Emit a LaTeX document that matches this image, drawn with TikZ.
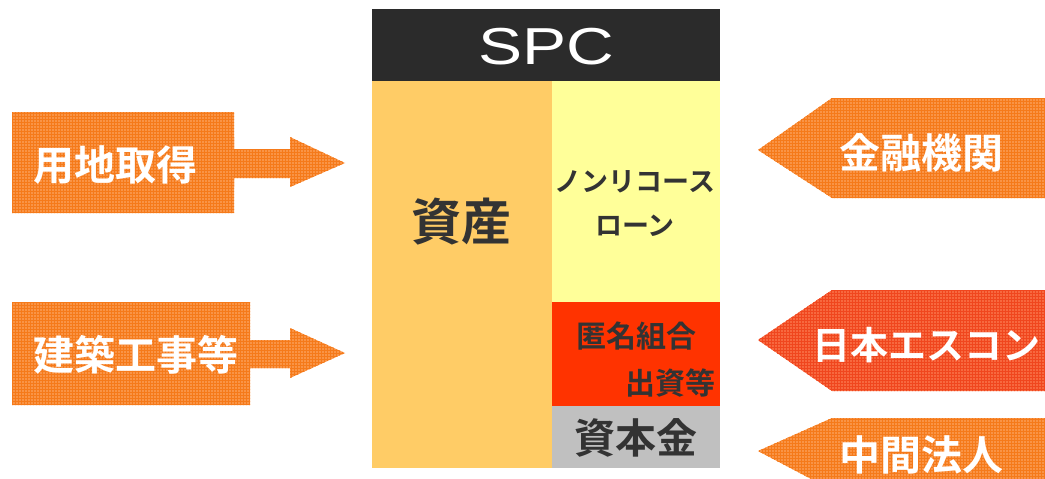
\documentclass[tikz,border=0pt]{standalone}
\usepackage{fontspec}
\usepackage{graphicx}
\setmainfont{Liberation Sans}
\newfontfamily\jp{Noto Sans CJK JP}[BoldFont={* Bold}]
\usetikzlibrary{patterns}
\definecolor{spcdarkcol}{HTML}{2B2B2B}
\definecolor{assetcol}{HTML}{FFCC66}
\definecolor{loancol}{HTML}{FFFF99}
\definecolor{tkcol}{HTML}{FF3300}
\definecolor{capitalcol}{HTML}{C0C0C0}
\definecolor{arrorange}{HTML}{F99446}
\definecolor{arrorangedk}{HTML}{F57A1A}
\definecolor{arrred}{HTML}{F7683F}
\definecolor{arrreddk}{HTML}{F0461E}
\definecolor{txtcol}{HTML}{333333}
\tikzset{
  arrowshape/.style={fill=arrorange},
  arrowgrid/.style={pattern=grid, pattern color=arrorangedk},
  redshape/.style={fill=arrred},
  redgrid/.style={pattern=grid, pattern color=arrreddk},
  arrowtext/.style={text=white, font=\jp\bfseries\fontsize{41}{41}\selectfont, inner sep=0pt},
  boxtext/.style={text=txtcol, font=\jp\bfseries, inner sep=0pt},
}
\begin{document}
\begin{tikzpicture}[x=1pt,y=-1pt]
\useasboundingbox (0,0) rectangle (1045,479);
\begin{scope}
\clip (0,0) rectangle (1045,479);
% left arrows
\foreach \s in {arrowshape,arrowgrid}{
  \path[\s] (12,112) -- (234,112) -- (234,149) -- (290,149) -- (290,137) -- (345,163) -- (290,187) -- (290,178) -- (234,178) -- (234,213) -- (12,213) -- cycle;
  \path[\s] (12,302) -- (250,302) -- (250,340) -- (290,340) -- (290,328) -- (345,353) -- (290,378) -- (290,368) -- (250,368) -- (250,405) -- (12,405) -- cycle;
  % right arrows
  \path[\s] (758,150) -- (832,98) -- (1045,98) -- (1045,198) -- (832,198) -- cycle;
  \path[\s] (758,451) -- (832,418) -- (1045,418) -- (1045,490) -- (832,490) -- cycle;
}
\path[redshape] (758,340) -- (832,290) -- (1045,290) -- (1045,391) -- (832,391) -- cycle;
\path[redgrid] (758,340) -- (832,290) -- (1045,290) -- (1045,391) -- (832,391) -- cycle;
\end{scope}
% SPC block
\fill[spcdarkcol] (372,9) rectangle (720,81);
\fill[assetcol] (372,81) rectangle (552,468);
\fill[loancol] (552,81) rectangle (720,302);
\fill[tkcol] (552,302) rectangle (720,406);
\fill[capitalcol] (552,406) rectangle (720,468);
\node[text=white, font=\fontsize{52}{52}\selectfont, inner sep=0pt] (spc) at (546,47) {\scalebox{1.27}[1]{SPC}};
\node[boxtext, font=\jp\bfseries\fontsize{50}{50}\selectfont] (asset) at (461,222) {資産};
\node[boxtext, font=\jp\bfseries\fontsize{27}{27}\selectfont] (nrl1) at (635,182) {ノンリコース};
\node[boxtext, font=\jp\bfseries\fontsize{27}{27}\selectfont] (nrl2) at (635,226) {ローン};
\node[boxtext, font=\jp\bfseries\fontsize{30}{30}\selectfont] (tk1) at (636,336) {匿名組合};
\node[boxtext, font=\jp\bfseries\fontsize{30}{30}\selectfont, anchor=east] (tk2) at (716,383) {出資等};
\node[boxtext, font=\jp\bfseries\fontsize{41}{41}\selectfont] (capital) at (636,438) {資本金};
% arrow labels
\node[arrowtext] (land) at (116,165) {用地取得};
\node[arrowtext] (build) at (136,355) {建築工事等};
\node[arrowtext] (bank) at (921,153) {金融機関};
\node[arrowtext, font=\jp\bfseries\fontsize{38}{38}\selectfont] (escon) at (926,345) {日本エスコン};
\node[arrowtext] (mid) at (921,455) {中間法人};
\end{tikzpicture}
\end{document}
